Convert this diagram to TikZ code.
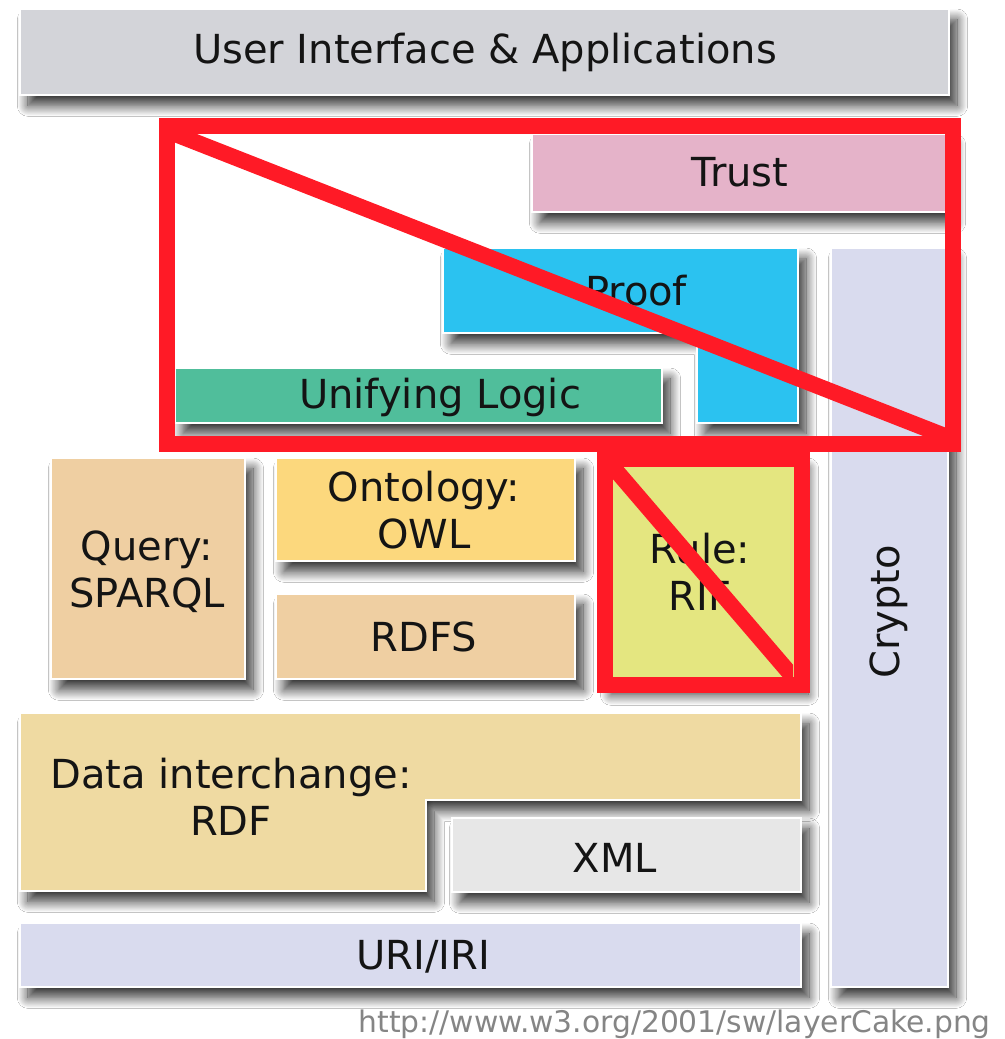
\documentclass[tikz,border=0pt]{standalone}
\usepackage{fontspec}
\setmainfont{DejaVu Sans}
\usetikzlibrary{shadows.blur}
\definecolor{uicol}{HTML}{D3D4D9}
\definecolor{trustcol}{HTML}{E5B3C9}
\definecolor{proofcol}{HTML}{2BC2F0}
\definecolor{logiccol}{HTML}{50BE9B}
\definecolor{cryptocol}{HTML}{D9DBEE}
\definecolor{querycol}{HTML}{EFCFA2}
\definecolor{owlcol}{HTML}{FCD87D}
\definecolor{rulecol}{HTML}{E4E680}
\definecolor{datacol}{HTML}{EFDAA2}
\definecolor{xmlcol}{HTML}{E7E7E7}
\definecolor{redc}{HTML}{FF1A26}
\definecolor{urlcol}{HTML}{858585}
\begin{document}
\begin{tikzpicture}[x=0.75pt,y=-0.75pt,
  box/.style={draw=white, line width=1.5pt,
    blur shadow={shadow xshift=6pt, shadow yshift=-8pt, shadow blur steps=16, shadow blur radius=8pt, shadow opacity=80}},
  lbl/.style={font=\fontsize{30}{35}\selectfont, align=center, inner sep=0pt, text=black!92},
  redline/.style={draw=redc, line width=12pt}]
\fill[white] (0,0) rectangle (1005,1039);
\useasboundingbox (0,0) rectangle (1005,1039);
% layers
\path[box, fill=uicol] (20,9) rectangle (949,95);
\node[lbl] (ui) at (485,52) {User Interface \& Applications};
\path[box, fill=trustcol] (532,134) rectangle (947,212);
\node[lbl] (trust) at (740,172) {Trust};
\path[box, fill=cryptocol] (831,248) rectangle (948,987);
\node[lbl, rotate=90] (crypto) at (889,612) {Crypto};
\path[box, fill=proofcol] (443,248) -- (798,248) -- (798,423) -- (697,423) -- (697,333) -- (443,333) -- cycle;
\node[lbl] (proof) at (636,291) {Proof};
\path[box, fill=logiccol] (175,368) rectangle (662,423);
\node[lbl] (logic) at (440,397) {Unifying Logic};
\path[box, fill=querycol] (51,458) rectangle (245,679);
\node[lbl] (query) at (147,572) {Query:\\SPARQL};
\path[box, fill=owlcol] (276,458) rectangle (575,561);
\node[lbl] (owl) at (424,510) {Ontology:\\OWL};
\path[box, fill=querycol] (276,594) rectangle (575,679);
\node[lbl] (rdfs) at (424,637) {RDFS};
\path[box, fill=rulecol] (603,458) rectangle (800,684);
\node[lbl] (rule) at (700,572) {Rule:\\RIF};
\path[box, fill=datacol] (20,713) -- (801,713) -- (801,800) -- (426,800) -- (426,891) -- (20,891) -- cycle;
\node[lbl] (rdf) at (231,797) {Data interchange:\\RDF};
\path[box, fill=xmlcol] (452,818) rectangle (801,892);
\node[lbl] (xml) at (615,858) {XML};
\path[box, fill=cryptocol] (20,923) rectangle (801,987);
\node[lbl] (uri) at (423,957) {URI/IRI};
\node[anchor=base east, inner sep=0pt, text=urlcol, font=\fontsize{22}{26}\selectfont] (url) at (991,1032) {\resizebox{474pt}{!}{http://www.w3.org/2001/sw/layerCake.png}};
% red overlay
\coordinate (bigA) at (175,134);
\coordinate (bigB) at (945,436);
\coordinate (smA) at (613,467);
\coordinate (smB) at (793,677);
\draw[redline] (167,126) rectangle (953,443.5);
\begin{scope}
  \clip (bigA) rectangle (bigB);
  \draw[redline] (bigA) -- (bigB);
\end{scope}
\draw[redline] (605,459) rectangle (801.5,685);
\begin{scope}
  \clip (smA) rectangle (smB);
  \draw[redline] (smA) -- (smB);
\end{scope}
\end{tikzpicture}
\end{document}
